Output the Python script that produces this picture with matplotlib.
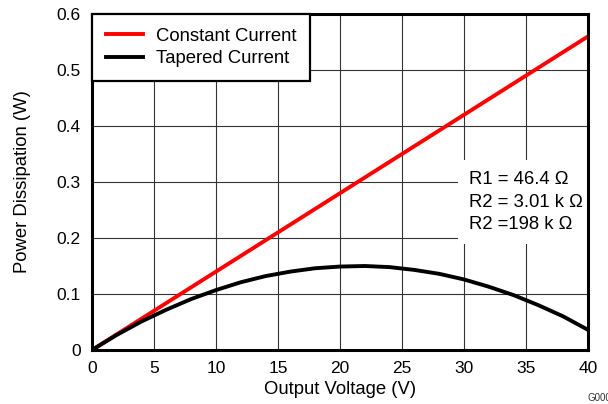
import numpy as np
import matplotlib.pyplot as plt

plt.rcParams['font.family'] = ['Liberation Sans', 'DejaVu Sans']

# Data
v_const = [0, 40]
p_const = [0, 0.56]

v_taper = [0, 2, 4, 6, 8, 10, 12, 14, 16, 18, 20, 22, 24, 26, 28, 30, 32, 34, 36, 38, 40]
p_taper = [0, 0.027, 0.051, 0.072, 0.091, 0.107, 0.121, 0.132, 0.140, 0.146, 0.149,
           0.150, 0.148, 0.143, 0.136, 0.126, 0.113, 0.098, 0.080, 0.060, 0.036]

x_ticks = [0, 5, 10, 15, 20, 25, 30, 35, 40]
y_ticks = [0, 0.1, 0.2, 0.3, 0.4, 0.5, 0.6]
y_labels = ["0", "0.1", "0.2", "0.3", "0.4", "0.5", "0.6"]

fig = plt.figure(figsize=(6.08, 4.04), dpi=100)
ax = fig.add_axes([92/608, 1 - 350/404, 496/608, 336/404])

ax.plot(v_const, p_const, c="#ff0000", lw=2.8, label="Constant Current", zorder=3)
ax.plot(v_taper, p_taper, c="black", lw=2.8, label="Tapered Current", zorder=3)

ax.set_xlim(0, 40)
ax.set_ylim(0, 0.6)
ax.set_xticks(x_ticks)
ax.set_yticks(y_ticks)
ax.set_yticklabels(y_labels)
ax.tick_params(length=0, labelsize=12.5, pad=8)
ax.grid(True, color="#333333", lw=0.8)
for s in ax.spines.values():
    s.set_linewidth(2.2)
    s.set_zorder(5)

ax.set_xlabel("Output Voltage (V)", fontsize=13.3, va="center")
ax.set_ylabel("Power Dissipation (W)", fontsize=13.3, va="center")
ax.xaxis.set_label_coords(0.5, -0.119)
ax.yaxis.set_label_coords(-0.141, 0.5)

leg = ax.legend(loc="upper left", bbox_to_anchor=(0, 1), fontsize=13.3, frameon=True,
                fancybox=False, framealpha=1, edgecolor="black", borderaxespad=0,
                handlelength=2.0, handletextpad=0.7, borderpad=0.75, labelspacing=0.3)
leg.get_frame().set_linewidth(1.6)

ax.text(0.76, 0.44, "R1 = 46.4 \u03a9\nR2 = 3.01 k \u03a9\nR2 =198 k \u03a9",
        transform=ax.transAxes, fontsize=13.3, va="center", ha="left",
        linespacing=1.44, zorder=4,
        bbox=dict(facecolor="white", edgecolor="none", pad=8))

fig.text(587/608, 1 - 398/404, "G000", fontsize=7, ha="left", va="center", color="#333333")

fig.savefig("out.png", dpi=100)
